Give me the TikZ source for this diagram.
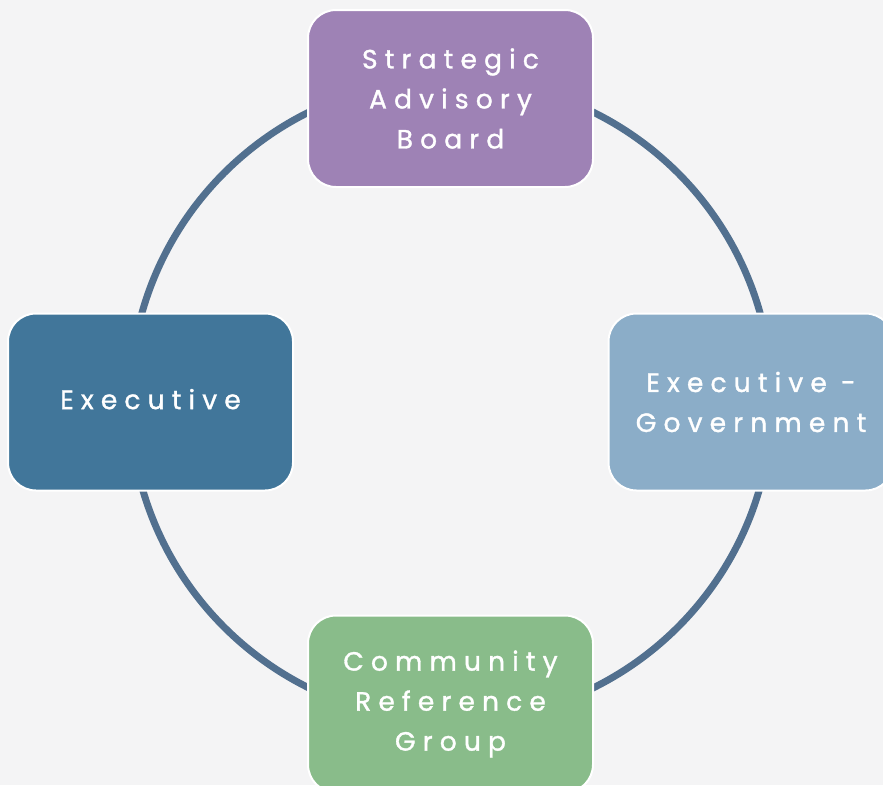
\documentclass[tikz,border=0pt]{standalone}
\usepackage{fontspec}
\newfontfamily\lblfont[LetterSpace=27,FakeBold=1.2]{Poppins}
\definecolor{bgc}{HTML}{F4F4F5}
\definecolor{ringc}{HTML}{52708F}
\definecolor{purplec}{HTML}{9E82B5}
\definecolor{bluec}{HTML}{41769A}
\definecolor{lightbluec}{HTML}{8BADC8}
\definecolor{greenc}{HTML}{89BC8A}
\begin{document}
\begin{tikzpicture}[x=1pt,y=-1pt,
  box/.style={rectangle, rounded corners=28pt, draw=white, line width=2pt,
    minimum width=285pt, minimum height=177pt, inner sep=0pt, align=center,
    text=white, font=\lblfont\fontsize{26.5}{40}\selectfont},
  ring/.style={draw=ringc, line width=7pt}]
\useasboundingbox[fill=bgc] (0,0) rectangle (883,785);
\coordinate (ctr) at (451,400);
\draw[ring] (ctr) circle[radius=321pt];
\node[box, fill=purplec] (sab) at (450.5,98.5) {Strategic\\Advisory\\Board};
\node[box, fill=bluec] (exe) at (150.5,402) {\raisebox{6pt}{Executive}};
\node[box, fill=lightbluec] (gov) at (751,402) {Executive -\\Government};
\node[box, fill=greenc] (crg) at (450.5,704) {Community\\Reference\\Group};
\end{tikzpicture}
\end{document}
